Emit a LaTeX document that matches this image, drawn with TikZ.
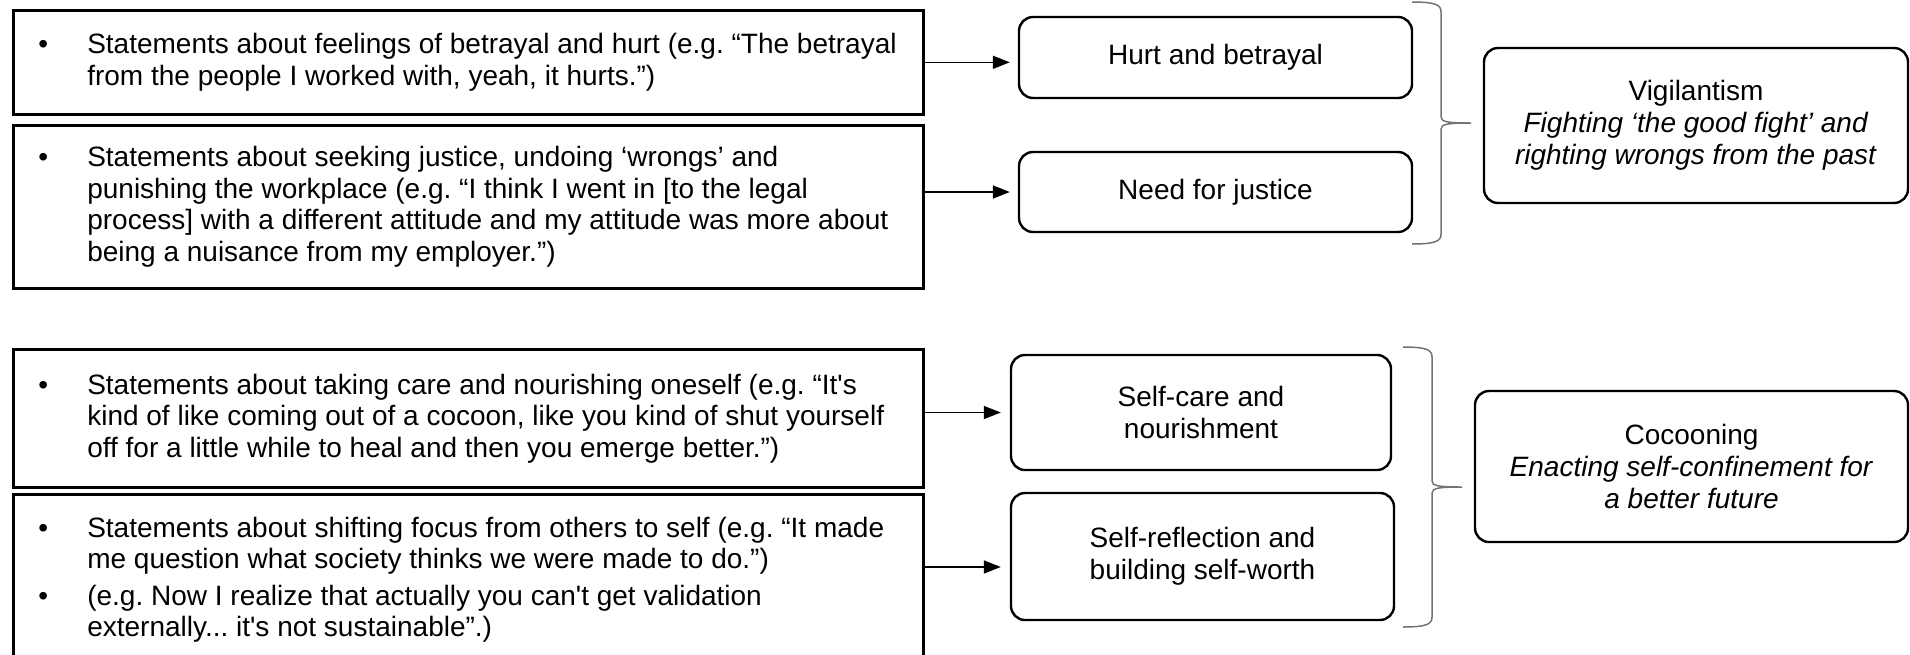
\documentclass[tikz,border=0pt]{standalone}
\usepackage{fontspec}
\setmainfont{Liberation Sans}
\usetikzlibrary{arrows.meta,positioning}
\definecolor{BraceClr}{rgb}{0.45,0.45,0.45}
\frenchspacing

\newcommand{\blt}{\par\noindent\llap{\textbullet\hspace{39pt}}}
\newenvironment{stmtbox}[1][0]{\begin{minipage}{910pt}\raggedright
  \leftskip=74pt\parskip=#1pt\relax}{\end{minipage}}
% right-hand brace: x, top, bottom
\newcommand{\grpbrace}[3]{%
  \draw[brc] (#1,#2) .. controls ({#1+24},#2) and ({#1+29},{#2+3}) .. ({#1+29},{#2+10})
    -- ({#1+29},{(#2+#3)/2-6}) .. controls ({#1+29},{(#2+#3)/2-1}) and ({#1+36},{(#2+#3)/2}) .. ({#1+59},{(#2+#3)/2})
    .. controls ({#1+36},{(#2+#3)/2}) and ({#1+29},{(#2+#3)/2+1}) .. ({#1+29},{(#2+#3)/2+6})
    -- ({#1+29},{#3-10}) .. controls ({#1+29},{#3-3}) and ({#1+24},#3) .. (#1,#3);}

\begin{document}
\begin{tikzpicture}[x=1pt,y=-1pt,
  stmt/.style={draw,line width=2.6pt,anchor=north west,inner sep=0pt,
    font=\fontsize{28}{31.5}\selectfont},
  theme/.style={draw,line width=2.4pt,rounded corners=14pt,align=center,
    font=\fontsize{28}{32}\selectfont},
  arr/.style={line width=1.5pt,-{Triangle[length=17pt,width=13pt]}},
  brc/.style={color=BraceClr,line width=1.5pt}]
\useasboundingbox (0,0) rectangle (1910,654);

% statements
\node[stmt,minimum height=104pt] (b1) at (12,9) {\begin{stmtbox}
  \blt Statements about feelings of betrayal and hurt (e.g. “The betrayal\\
  from the people I worked with, yeah, it hurts.”)\end{stmtbox}};
\node[stmt,minimum height=163pt] (b2) at (12,124) {\begin{stmtbox}
  \blt Statements about seeking justice, undoing ‘wrongs’ and\\
  punishing the workplace (e.g. “I think I went in [to the legal\\
  process] with a different attitude and my attitude was more about\\
  being a nuisance from my employer.”)\end{stmtbox}};
\node[stmt,minimum height=138pt] (b3) at (12,348) {\begin{stmtbox}
  \blt Statements about taking care and nourishing oneself (e.g. “It\textquotesingle s\\
  kind of like coming out of a cocoon, like you kind of shut yourself\\
  off for a little while to heal and then you emerge better.”)\end{stmtbox}};
\node[stmt,minimum height=171pt] (b4) at (12,493) {\begin{stmtbox}[5]
  \blt Statements about shifting focus from others to self (e.g. “It made\\
  me question what society thinks we were made to do.”)
  \blt (e.g. Now I realize that actually you can\textquotesingle t get validation\\
  externally... it\textquotesingle s not sustainable”.)\end{stmtbox}};

% subthemes
\node[theme,minimum width=393pt,minimum height=81pt] (hurt) at (1215.5,57.5) {Hurt and betrayal};
\node[theme,minimum width=393pt,minimum height=80pt] (need) at (1215.5,192) {Need for justice};
\node[theme,minimum width=380pt,minimum height=115pt] (care) at (1201,412.5) {Self-care and\\nourishment};
\node[theme,minimum width=383pt,minimum height=127pt] (refl) at (1202.5,556.5) {Self-reflection and\\building self-worth};

% themes
\node[theme,minimum width=424pt,minimum height=155pt] (vig) at (1696,125.5)
  {Vigilantism\\\textit{Fighting ‘the good fight’ and}\\\textit{righting wrongs from the past}};
\node[theme,minimum width=433pt,minimum height=151pt] (coc) at (1691.5,466.5)
  {Cocooning\\\textit{Enacting self-confinement for}\\\textit{a better future}};

\draw[arr,shorten >=8pt] (b1.east) -- (b1.east -| hurt.west);
\draw[arr,shorten >=8pt] (need.west -| b2.east) -- (need.west);
\draw[arr,shorten >=9pt] (care.west -| b3.east) -- (care.west);
\coordinate (a4) at ([yshift=-74pt]b4.north east);
\draw[arr,shorten >=9pt] (a4) -- (a4 -| refl.west);

% braces
\grpbrace{1412}{2}{244}
\grpbrace{1403}{347}{627}

\end{tikzpicture}
\end{document}
